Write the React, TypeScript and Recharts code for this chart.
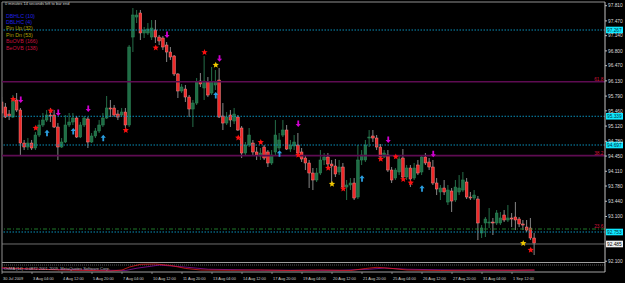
import React from "react";
import { ComposedChart, Bar, XAxis, YAxis, ReferenceLine, Scatter, Line } from "recharts";

// ---- time axis ----
const timeTickIdx = [0, 8, 16, 24, 32, 40, 48, 56, 64, 72, 80, 88, 96, 104, 112, 120, 128, 136];
const timeLabels = [
  "30 Jul 2009", "3 Aug 04:00", "4 Aug 12:00", "5 Aug 20:00", "7 Aug 04:00", "10 Aug 12:00",
  "11 Aug 20:00", "13 Aug 04:00", "14 Aug 12:00", "17 Aug 20:00", "19 Aug 04:00", "20 Aug 12:00",
  "21 Aug 20:00", "25 Aug 04:00", "26 Aug 12:00", "27 Aug 20:00", "31 Aug 04:00", "1 Sep 12:00",
];

// ---- price axis ----
const priceTicks = [97.81, 97.47, 97.14, 96.8, 96.47, 96.13, 95.79, 95.46, 95.12, 94.78, 94.45, 94.11, 93.78, 93.44, 93.1, 92.1];

// ---- candles (H4) ----
const opens = [
  95.658, 95.546, 95.389, 95.322, 95.703, 95.479, 94.741, 94.652, 94.741, 94.630,
  94.920, 95.144, 95.255, 95.367, 95.367, 95.099, 94.652, 94.764, 95.144, 95.211,
  95.300, 94.876, 95.144, 95.278, 94.764, 94.898, 95.010, 95.144, 95.300, 95.524,
  95.524, 95.389, 95.367, 95.434, 95.144, 97.110, 97.557, 97.647, 97.200, 97.200,
  97.110, 97.267, 97.110, 97.088, 96.931, 96.775, 96.686, 96.284, 95.904, 95.948,
  95.769, 95.501, 95.635, 96.127, 95.971, 96.105, 95.859, 96.038, 96.149, 95.345,
  95.188, 95.367, 95.233, 95.322, 95.077, 94.518, 94.697, 94.741, 94.541, 94.451,
  94.652, 94.541, 94.295, 94.541, 94.630, 94.920, 95.032, 94.607, 94.674, 94.697,
  94.541, 94.406, 94.295, 94.071, 93.915, 94.071, 94.362, 94.429, 94.272, 94.228,
  94.094, 94.205, 93.758, 93.803, 93.848, 93.535, 94.362, 94.362, 94.853, 94.898,
  94.853, 94.652, 94.429, 94.473, 94.138, 93.959, 94.094, 94.406, 93.982, 94.183,
  93.959, 94.250, 94.094, 94.429, 94.317, 94.205, 93.848, 93.647, 93.736, 93.423,
  93.669, 93.468, 93.647, 93.691, 93.870, 93.535, 93.512, 93.490, 92.731, 92.954,
  92.954, 92.976, 92.954, 92.954, 93.133, 93.021, 93.066, 93.088, 93.043, 92.932,
  92.864, 92.842, 92.619,
];
const highs = [
  95.769, 95.635, 95.479, 95.814, 95.859, 95.524, 94.809, 94.853, 94.809, 94.987,
  95.255, 95.412, 95.479, 95.524, 95.479, 95.188, 94.853, 95.367, 95.412, 95.412,
  95.345, 95.211, 95.345, 95.322, 94.965, 95.077, 95.255, 95.412, 95.792, 95.703,
  95.591, 95.479, 95.524, 95.524, 96.931, 97.758, 97.714, 97.714, 97.334, 97.423,
  97.490, 97.490, 97.155, 97.133, 96.998, 96.887, 96.708, 96.306, 96.060, 96.038,
  95.814, 95.703, 96.194, 96.306, 96.686, 96.216, 96.440, 96.373, 96.418, 95.635,
  95.434, 95.479, 95.524, 95.367, 95.121, 94.764, 95.077, 94.809, 94.652, 94.630,
  94.697, 94.585, 94.585, 95.255, 94.965, 95.255, 95.144, 94.809, 94.920, 94.965,
  94.630, 94.473, 94.362, 94.183, 94.183, 94.585, 94.518, 94.518, 94.362, 94.384,
  94.362, 94.295, 93.915, 93.959, 93.959, 94.697, 94.585, 94.809, 95.032, 95.032,
  94.920, 94.719, 94.585, 94.585, 94.205, 94.183, 94.473, 94.607, 94.250, 94.250,
  94.295, 94.362, 94.473, 94.518, 94.406, 94.362, 93.959, 93.803, 93.915, 93.803,
  93.736, 93.915, 94.026, 94.094, 93.959, 93.647, 93.691, 93.557, 92.909, 93.088,
  93.289, 93.066, 93.244, 93.200, 93.244, 93.356, 93.177, 93.423, 93.088, 93.021,
  93.021, 93.066, 92.731,
];
const lows = [
  95.300, 95.300, 95.255, 95.300, 95.434, 94.473, 94.585, 94.585, 94.585, 94.585,
  94.876, 95.099, 95.211, 95.211, 95.077, 94.362, 94.630, 94.741, 95.099, 95.144,
  94.853, 94.853, 95.099, 94.630, 94.741, 94.853, 94.965, 95.099, 95.278, 95.322,
  95.322, 95.255, 95.322, 95.077, 95.099, 96.775, 97.423, 97.043, 97.088, 97.155,
  97.043, 96.976, 96.931, 96.820, 96.552, 96.596, 96.239, 95.747, 95.859, 95.658,
  95.322, 95.099, 95.591, 95.993, 95.703, 95.769, 95.814, 95.926, 95.300, 95.032,
  95.144, 95.099, 95.166, 95.010, 94.406, 94.473, 94.652, 94.473, 94.362, 94.362,
  94.362, 94.205, 94.250, 94.473, 94.585, 94.876, 94.585, 94.541, 94.585, 94.473,
  94.317, 94.138, 93.736, 93.691, 93.870, 94.026, 94.250, 94.183, 93.848, 93.982,
  94.026, 93.691, 93.468, 93.691, 93.468, 93.490, 94.250, 94.317, 94.652, 94.764,
  94.585, 94.362, 94.406, 94.094, 93.848, 93.915, 94.026, 93.937, 93.915, 93.758,
  93.915, 94.026, 94.026, 94.250, 94.138, 93.803, 93.579, 93.468, 93.579, 93.356,
  93.200, 93.423, 93.579, 93.647, 93.490, 93.468, 93.468, 92.574, 92.619, 92.641,
  92.842, 92.686, 92.909, 92.909, 92.976, 92.976, 92.864, 92.797, 92.864, 92.797,
  92.753, 92.574, 92.239,
];
const closes = [
  95.412, 95.322, 95.345, 95.703, 95.479, 94.741, 94.652, 94.741, 94.630, 94.920,
  95.144, 95.255, 95.367, 95.345, 95.099, 94.652, 94.764, 95.144, 95.211, 95.300,
  94.876, 95.144, 95.300, 94.764, 94.898, 95.010, 95.144, 95.300, 95.524, 95.501,
  95.367, 95.322, 95.434, 95.144, 96.887, 97.602, 97.602, 97.200, 97.267, 97.289,
  97.311, 97.110, 97.021, 96.887, 96.775, 96.663, 96.284, 95.904, 95.993, 95.769,
  95.501, 95.635, 96.105, 96.060, 96.127, 95.814, 96.105, 96.105, 95.322, 95.188,
  95.322, 95.255, 95.389, 95.032, 94.518, 94.697, 94.920, 94.541, 94.473, 94.518,
  94.406, 94.295, 94.473, 94.920, 94.809, 95.032, 94.607, 94.697, 94.764, 94.518,
  94.384, 94.295, 94.071, 93.915, 94.071, 94.362, 94.429, 94.272, 94.228, 94.049,
  94.205, 93.758, 93.803, 93.848, 93.512, 94.362, 94.473, 94.697, 94.876, 94.853,
  94.652, 94.429, 94.518, 94.138, 93.915, 94.138, 94.384, 93.982, 94.183, 93.937,
  94.183, 94.071, 94.429, 94.295, 94.205, 93.848, 93.714, 93.736, 93.647, 93.691,
  93.445, 93.758, 93.736, 93.915, 93.535, 93.512, 93.579, 92.954, 92.842, 93.043,
  92.976, 92.954, 93.177, 93.066, 93.021, 93.066, 93.043, 93.021, 92.932, 92.909,
  92.797, 92.619, 92.507,
];

// ---- signal markers ----
const redStarIdx = [3, 9, 13, 33, 41, 54, 63, 69, 79, 87, 91, 101, 105, 107, 109, 141];
const redStarPrice = [95.718, 95.077, 95.463, 95.026, 96.871, 96.768, 94.86, 94.757, 94.473, 94.183, 93.72, 94.384, 94.436, 93.93, 93.855, 92.35];
const yellowStarIdx = [57, 88, 139];
const yellowStarPrice = [96.485, 93.825, 92.5];
const downArrowIdx = [5, 15, 23, 44, 58, 79, 103, 115];
const downArrowPrice = [95.703, 95.412, 95.501, 97.155, 96.623, 95.166, 94.809, 94.489];
const upArrowIdx = [12, 19, 27, 57, 74, 96, 112];
const upArrowPrice = [94.971, 95.01, 94.86, 95.814, 94.511, 93.953, 93.73];

// ---- horizontal levels ----
const cyanLevels = [97.267, 95.339, 94.697, 92.753];
const cyanLabels = ["97.267", "95.339", "94.697", "92.753"];
const fibLevels = [96.11, 94.46];
const fibLabels = ["61.8", "38.2"];
const greenLevel = 92.82;
const greenLabel = "23.6";
const bidLevel = 92.485;
const bidLabel = "92.485";
const paneSeparator = 92.0715;

// ---- oscillator subwindow ----
const oscIdx = [0, 8, 16, 24, 29, 32, 34, 37, 41, 45, 49, 53, 61, 69, 77, 85, 93, 97, 100, 104, 108, 117, 128, 136, 142];
const oscVal = [0.47, 0.29, 0.14, 0.07, 0, 0.14, 0.57, 0.96, 1.0, 0.79, 0.36, 0.14, 0.1, 0.14, 0.07, 0.14, 0.07, 0.36, 0.53, 0.36, 0.14, 0.07, 0.14, 0.1, 0.14];
const sigIdx = [0, 10, 25, 33, 36, 42, 48, 55, 70, 90, 98, 102, 108, 125, 142];
const sigVal = [0.35, 0.25, 0.12, 0.08, 0.4, 0.85, 0.6, 0.25, 0.12, 0.1, 0.25, 0.42, 0.25, 0.1, 0.12];
const oscLevel = 0.857;

const legendNames = ["DBHLC (10)", "DBLHC (4)", "Pin Up (32)", "Pin Dn (53)", "BuOVB (166)", "BeOVB (138)"];
const legendColors = ["#2020e0", "#2020e0", "#b0a200", "#b0a200", "#c8103e", "#c8103e"];
const timerText = "0 minutes 14 seconds left to bar end";
const subText = "OsMA (14) -0.0872    2001-2009, MetaQuotes Software Corp.";

const candles = opens.map((o, i) => ({ i, o, h: highs[i], l: lows[i], c: closes[i], range: [lows[i], highs[i]] }));
const mk = (idx: number[], pr: number[]) => idx.map((i, k) => ({ i, p: pr[k] }));
const redStars = mk(redStarIdx, redStarPrice);
const yellowStars = mk(yellowStarIdx, yellowStarPrice);
const downArrows = mk(downArrowIdx, downArrowPrice);
const upArrows = mk(upArrowIdx, upArrowPrice);
const oscData = oscIdx.map((i, k) => ({ i, v: oscVal[k] }));
const sigData = sigIdx.map((i, k) => ({ i, v: sigVal[k] }));

const FONT = "'Liberation Sans', Arial, sans-serif";

const Candle = (props: any) => {
  const { x, y, width, height, payload } = props;
  if (!payload || x == null || y == null || height == null) return null;
  const { o, h, l, c } = payload;
  const span = h - l;
  const toY = (v: number) => y + ((h - v) / span) * height;
  const cx = x + width / 2;
  const up = c >= o;
  const top = toY(Math.max(o, c));
  const bot = toY(Math.min(o, c));
  const bh = Math.max(bot - top, 0.9);
  const bw = 2.7;
  return (
    <g>
      <line x1={cx} x2={cx} y1={y} y2={y + height} stroke={up ? "#2f8a5a" : "#a8a8a8"} strokeWidth={0.8} />
      <rect x={cx - bw / 2} y={top} width={bw} height={bh} fill={up ? "#1f6e46" : "#f02828"} stroke={up ? "#2f8a5a" : "#f08a8a"} strokeWidth={0.5} />
    </g>
  );
};

const starPath = (cx: number, cy: number, r: number) => {
  let d = "";
  for (let k = 0; k < 10; k++) {
    const rr = k % 2 === 0 ? r : r * 0.45;
    const a = -Math.PI / 2 + (k * Math.PI) / 5;
    d += (k ? "L" : "M") + (cx + rr * Math.cos(a)).toFixed(2) + "," + (cy + rr * Math.sin(a)).toFixed(2);
  }
  return d + "Z";
};
const RedStar = (p: any) => <path d={starPath(p.cx, p.cy, 3.3)} fill="#ff1010" />;
const YellowStar = (p: any) => <path d={starPath(p.cx, p.cy, 3.3)} fill="#f0c800" />;
const DownArrow = (p: any) => {
  const { cx, cy } = p;
  const d = `M${cx - 0.9},${cy - 3.5}L${cx + 0.9},${cy - 3.5}L${cx + 0.9},${cy}L${cx + 2.6},${cy}L${cx},${cy + 3}L${cx - 2.6},${cy}L${cx - 0.9},${cy}Z`;
  return <path d={d} fill="#d000d0" />;
};
const UpArrow = (p: any) => {
  const { cx, cy } = p;
  const d = `M${cx - 0.9},${cy + 3.5}L${cx + 0.9},${cy + 3.5}L${cx + 0.9},${cy}L${cx + 2.6},${cy}L${cx},${cy - 3}L${cx - 2.6},${cy}L${cx - 0.9},${cy}Z`;
  return <path d={d} fill="#2a9ee0" />;
};

const BoxLabel = (props: any) => {
  const { viewBox, text, bg, fg } = props;
  if (!viewBox) return null;
  const x = viewBox.x + viewBox.width + 1;
  const y = viewBox.y;
  return (
    <g>
      <rect x={x} y={y - 3.3} width={17} height={6.6} fill={bg} />
      <text x={x + 1} y={y} dy="0.36em" fontSize={4.8} fill={fg} fontFamily={FONT}>{text}</text>
    </g>
  );
};
const FibLabel = (props: any) => {
  const { viewBox, text } = props;
  if (!viewBox) return null;
  return (
    <text x={viewBox.x + viewBox.width - 1.5} y={viewBox.y - 0.8} textAnchor="end" fontSize={4.8} fill="#d0143c" fontFamily={FONT}>{text}</text>
  );
};

const TimeTick = (props: any) => {
  const { x, y, payload } = props;
  const k = timeTickIdx.indexOf(payload.value);
  if (k < 0) return null;
  return (
    <g>
      <line x1={x} x2={x} y1={y - 2} y2={y} stroke="#b0b0b0" strokeWidth={0.7} />
      <text x={x + 1} y={y + 6} fontSize={3.9} fill="#d0d0d0" fontFamily={FONT}>{timeLabels[k]}</text>
    </g>
  );
};

export default function App() {
  return (
    <div style={{ position: "relative", width: 625, height: 283, background: "#000", fontFamily: FONT, overflow: "hidden" }}>
      <style>{`html,body{margin:0;padding:0;background:#000;}`}</style>
      <ComposedChart width={625} height={283} data={candles} margin={{ top: 2, right: 0, bottom: 0, left: 2 }}>
        <XAxis
          dataKey="i"
          type="number"
          domain={[0, 160.8]}
          ticks={timeTickIdx}
          interval={0}
          allowDataOverflow
          height={11}
          axisLine={{ stroke: "#a0a0a0" }}
          tickLine={false}
          tickSize={2}
          tickMargin={0}
          tick={<TimeTick />}
        />
        <YAxis
          yAxisId="p"
          orientation="right"
          domain={[91.8592, 97.8927]}
          ticks={priceTicks}
          interval={0}
          allowDataOverflow
          width={20}
          axisLine={{ stroke: "#c0c0c0" }}
          tickLine={{ stroke: "#c0c0c0" }}
          tickSize={2}
          tickMargin={1}
          tick={{ fontSize: 4.8, fill: "#dcdcdc" }}
          tickFormatter={(v: number) => v.toFixed(3)}
        />
        <YAxis yAxisId="o" hide domain={[-0.143, 38.43]} allowDataOverflow />

        <ReferenceLine yAxisId="p" y={97.8927} stroke="#909090" strokeWidth={1} />
        <ReferenceLine yAxisId="p" x={0} stroke="#909090" strokeWidth={1} />

        {fibLevels.map((v, k) => (
          <ReferenceLine key={"f" + k} yAxisId="p" y={v} stroke="#5e0c52" strokeWidth={1.6} label={<FibLabel text={fibLabels[k]} />} />
        ))}
        <ReferenceLine yAxisId="p" y={greenLevel} stroke="#23862f" strokeWidth={0.9} strokeDasharray="4 2 1 2" label={<FibLabel text={greenLabel} />} />
        {cyanLevels.map((v, k) => (
          <ReferenceLine key={"c" + k} yAxisId="p" y={v} stroke="#0aa0d0" strokeWidth={0.9} strokeDasharray="1.5 1.5" label={<BoxLabel text={cyanLabels[k]} bg="#10e8ff" fg="#003040" />} />
        ))}
        <ReferenceLine yAxisId="p" y={bidLevel} stroke="#8a8a8a" strokeWidth={0.8} label={<BoxLabel text={bidLabel} bg="#f0f0f0" fg="#000000" />} />
        <ReferenceLine yAxisId="p" y={paneSeparator} stroke="#a0a0a0" strokeWidth={1} />
        <ReferenceLine yAxisId="o" y={oscLevel} stroke="#7a7a7a" strokeWidth={0.7} strokeDasharray="1 1" />

        <Bar yAxisId="p" dataKey="range" shape={Candle} barSize={3} isAnimationActive={false} />

        <Line yAxisId="o" data={sigData} dataKey="v" stroke="#8a10a0" strokeWidth={0.8} dot={false} isAnimationActive={false} />
        <Line yAxisId="o" data={oscData} dataKey="v" stroke="#e02020" strokeWidth={0.8} dot={false} isAnimationActive={false} />

        <Scatter yAxisId="p" data={redStars} dataKey="p" shape={RedStar} isAnimationActive={false} />
        <Scatter yAxisId="p" data={yellowStars} dataKey="p" shape={YellowStar} isAnimationActive={false} />
        <Scatter yAxisId="p" data={downArrows} dataKey="p" shape={DownArrow} isAnimationActive={false} />
        <Scatter yAxisId="p" data={upArrows} dataKey="p" shape={UpArrow} isAnimationActive={false} />
      </ComposedChart>

      <div style={{ position: "absolute", left: 5, top: 2, fontSize: 4, lineHeight: "4.5px", color: "#d0d0d0", whiteSpace: "nowrap" }}>{timerText}</div>
      {legendNames.map((n, k) => (
        <div key={n} style={{ position: "absolute", left: 6, top: 12.5 + k * 6.4, fontSize: 5.3, lineHeight: "6.4px", color: legendColors[k], whiteSpace: "nowrap" }}>{n}</div>
      ))}
      <div style={{ position: "absolute", left: 4, top: 266, fontSize: 4, lineHeight: "5px", color: "#b8b8b8", whiteSpace: "nowrap" }}>{subText}</div>
    </div>
  );
}
